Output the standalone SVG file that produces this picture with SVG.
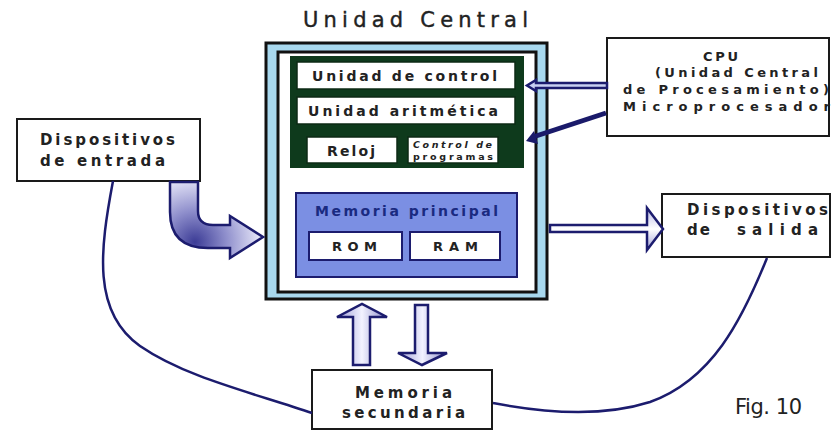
<svg xmlns="http://www.w3.org/2000/svg" width="831" height="433" viewBox="0 0 831 433">
<defs>
<radialGradient id="gBend" cx="195" cy="242" r="70" gradientUnits="userSpaceOnUse">
<stop offset="0" stop-color="#3c3c96"/>
<stop offset="0.45" stop-color="#8f8fcc"/>
<stop offset="1" stop-color="#f4f4ff"/>
</radialGradient>
<linearGradient id="gV" x1="0" y1="0" x2="1" y2="0">
<stop offset="0" stop-color="#9c9cd6"/>
<stop offset="0.5" stop-color="#f2f2ff"/>
<stop offset="1" stop-color="#8a8ac8"/>
</linearGradient>
<linearGradient id="gH" x1="0" y1="0" x2="0" y2="1">
<stop offset="0" stop-color="#b8b8e6"/>
<stop offset="0.5" stop-color="#ffffff"/>
<stop offset="1" stop-color="#a0a0d8"/>
</linearGradient>
</defs>
<style>
.box{fill:#fff;stroke:#1a1a1a;stroke-width:2}
.wb{fill:#fff;stroke:#0c2a14;stroke-width:1.5}
.t{font-family:"DejaVu Sans",sans-serif;font-weight:bold;fill:#222}
.tn{font-family:"DejaVu Sans",sans-serif;fill:#222}
.line{fill:none;stroke:#1c1c6e;stroke-width:2.5}
.arr{stroke:#1c1c6e;stroke-width:2.5;stroke-linejoin:miter}
</style>
<rect width="831" height="433" fill="#fff"/>
<text class="tn" x="303" y="27" font-size="21" stroke="#222" stroke-width="0.4" textLength="225" lengthAdjust="spacing">Unidad Central</text>

<g id="unidad-central">
<rect x="266" y="43" width="281" height="256" fill="#a8d8ee" stroke="#111" stroke-width="3"/>
<rect x="278" y="52" width="258" height="240" fill="#fff" stroke="#111" stroke-width="3"/>
</g>
<g id="cpu-interna">
<rect x="290" y="56" width="234" height="112" fill="#0e3a1c"/>
<g id="unidad-control">
<rect class="wb" x="297" y="62" width="218" height="27"/>
<text class="t" x="312" y="81" font-size="14" textLength="185" lengthAdjust="spacing">Unidad de control</text>
</g>
<g id="unidad-aritmetica">
<rect class="wb" x="297" y="97" width="218" height="27"/>
<text class="t" x="308" y="116" font-size="14" textLength="190" lengthAdjust="spacing">Unidad aritmética</text>
</g>
<g id="reloj">
<rect class="wb" x="307" y="137" width="90" height="26"/>
<text class="t" x="327" y="156" font-size="14" textLength="48" lengthAdjust="spacing">Reloj</text>
</g>
<g id="control-programas">
<rect class="wb" x="408" y="137" width="90" height="26"/>
<text class="t" x="413" y="148" font-size="9.5" font-style="italic" textLength="79" lengthAdjust="spacing">Control de</text>
<text class="t" x="413" y="160" font-size="9.5" textLength="80" lengthAdjust="spacing">programas</text>
</g>
</g>
<g id="memoria-principal">
<rect x="296" y="193" width="221" height="84" fill="#7b8fe3" stroke="#1c1c6e" stroke-width="2"/>
<text class="t" x="315" y="216" font-size="14" style="fill:#1a2a80" textLength="183" lengthAdjust="spacing">Memoria principal</text>
<g id="rom">
<rect x="309" y="232" width="93" height="28" fill="#fff" stroke="#1c1c6e" stroke-width="2"/>
<text class="t" x="332" y="251" font-size="13" textLength="45" lengthAdjust="spacing">ROM</text>
</g>
<g id="ram">
<rect x="410" y="232" width="90" height="28" fill="#fff" stroke="#1c1c6e" stroke-width="2"/>
<text class="t" x="433" y="251" font-size="13" textLength="45" lengthAdjust="spacing">RAM</text>
</g>
</g>

<g id="cpu">
<rect class="box" x="607" y="38" width="222" height="98"/>
<text class="t" x="703" y="61" font-size="13" textLength="35" lengthAdjust="spacing">CPU</text>
<text class="t" x="655" y="77" font-size="13" textLength="163" lengthAdjust="spacing">(Unidad Central</text>
<text class="t" x="623" y="94" font-size="13" textLength="206" lengthAdjust="spacing">de Procesamiento)</text>
<text class="t" x="623" y="111" font-size="13" textLength="207" lengthAdjust="spacing">Microprocesador</text>
</g>
<g id="dispositivos-entrada">
<rect class="box" x="17" y="119" width="183" height="62"/>
<text class="t" x="40" y="145" font-size="15" textLength="135" lengthAdjust="spacing">Dispositivos</text>
<text class="t" x="40" y="166" font-size="15" textLength="125" lengthAdjust="spacing">de entrada</text>
</g>
<g id="dispositivos-salida">
<rect class="box" x="662" y="194" width="168" height="63"/>
<text class="t" x="687" y="215" font-size="15" textLength="141" lengthAdjust="spacing">Dispositivos</text>
<text class="t" x="687" y="235" font-size="15" textLength="23" lengthAdjust="spacing">de</text>
<text class="t" x="737" y="235" font-size="15" textLength="81" lengthAdjust="spacing">salida</text>
</g>
<g id="memoria-secundaria">
<rect class="box" x="312" y="370" width="180" height="59"/>
<text class="t" x="355" y="398" font-size="15" textLength="97" lengthAdjust="spacing">Memoria</text>
<text class="t" x="342" y="418" font-size="15" textLength="123" lengthAdjust="spacing">secundaria</text>
</g>

<g id="connectors">
<path class="line" d="M113,181 C100,250 92,312 140,346 C185,377 250,392 312,413"/>
<path class="line" d="M767,258 C742,320 712,380 650,402 C600,418 540,412 493,403"/>
<path class="arr" fill="url(#gBend)" d="M170,182 L198,182 L198,211 Q198,225 213,225 L230,225 L230,216 L263,237 L230,258 L230,248 L208,248 Q170,248 170,212 Z"/>
<path class="arr" fill="url(#gH)" stroke-width="2.2" d="M550,225 L647,225 L647,208 L663,229 L647,250 L647,232 L550,232 Z"/>
<path class="arr" fill="url(#gV)" stroke-width="2.2" d="M353,365 L353,317 L337,317 L362,304 L387,317 L370,317 L370,365 Z"/>
<path class="arr" fill="url(#gV)" stroke-width="2.2" d="M415,305 L428,305 L428,353 L447,353 L422,365 L398,353 L415,353 Z"/>
<path class="arr" fill="#c8d0f2" stroke-width="1.8" d="M607,83 L536,83 L536,80 L527,85.5 L536,91 L536,88 L607,88 Z"/>
<line x1="606" y1="113" x2="533" y2="137" stroke="#1a1a6a" stroke-width="5"/>
<polygon points="526,141 538,144 534,131" fill="#1a1a6a"/>
</g>

<text class="tn" x="735" y="414" font-size="21" textLength="67" lengthAdjust="spacing">Fig. 10</text>
</svg>
